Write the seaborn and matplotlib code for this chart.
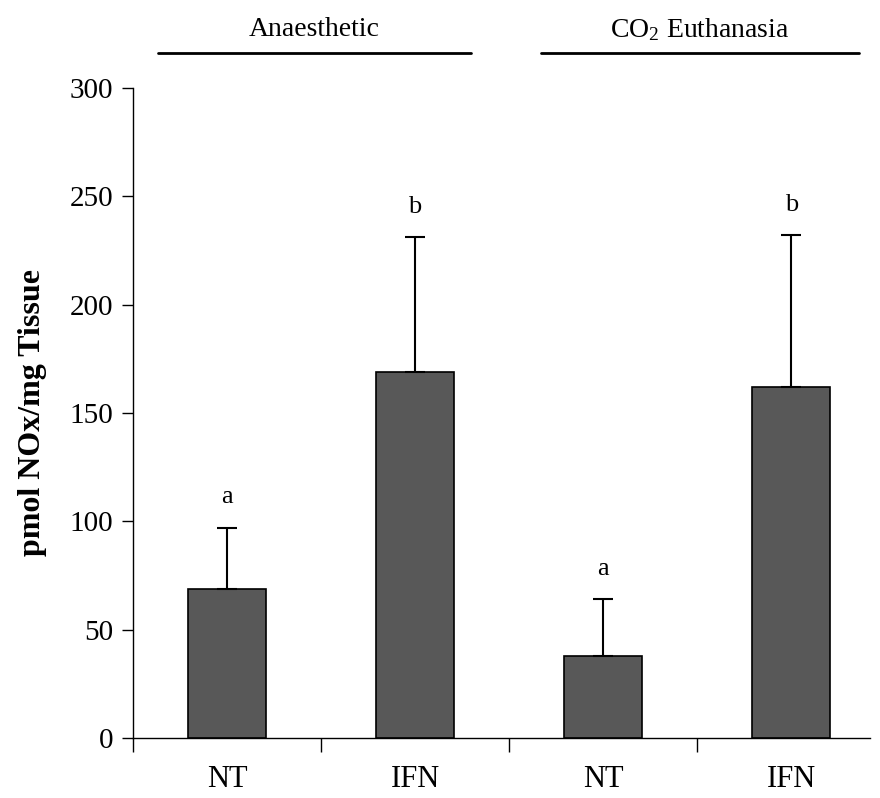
import matplotlib
matplotlib.use("Agg")
import matplotlib.pyplot as plt
import matplotlib.transforms as mtransforms
import seaborn as sns
import pandas as pd

# Data
positions = ["Anaesthetic NT", "Anaesthetic IFN", "CO2 NT", "CO2 IFN"]
tick_labels = ["NT", "IFN", "NT", "IFN"]
means = [69, 169, 38, 162]
upper_err = [28, 62, 26, 70]
letters = ["a", "b", "a", "b"]
groups = ["Anaesthetic", r"CO$_\mathregular{2}$ Euthanasia"]

sns.set_theme(style="white")
plt.rcParams["font.family"] = ["Liberation Serif", "DejaVu Serif"]
plt.rcParams["mathtext.default"] = "regular"
plt.rcParams["text.color"] = "black"
plt.rcParams["axes.labelcolor"] = "black"
plt.rcParams["xtick.color"] = "black"
plt.rcParams["ytick.color"] = "black"

df = pd.DataFrame({"cond": positions, "val": means})

fig = plt.figure(figsize=(8.8, 7.98), dpi=100)
ax = fig.add_axes([0.151, 0.075, 0.838, 0.815])

sns.barplot(data=df, x="cond", y="val", order=positions, color="#585858",
            saturation=1, width=0.415, edgecolor="black", linewidth=1.2,
            errorbar=None, ax=ax)

xs = list(range(len(positions)))
ax.errorbar(xs, means, yerr=[[0] * 4, upper_err], fmt="none", ecolor="black",
            elinewidth=1.5, capsize=7, capthick=1.5, zorder=1)

for x, m, e, l in zip(xs, means, upper_err, letters):
    ax.annotate(l, (x, m + e), xytext=(0, 14), textcoords="offset points",
                ha="center", va="bottom", fontsize=19, color="black")

ax.set_ylim(0, 300)
ax.set_xlim(-0.5, 3.42)
ax.set_yticks([0, 50, 100, 150, 200, 250, 300])
ax.set_xticks([-0.5, 0.5, 1.5, 2.5])
ax.set_xticklabels([])
ax.set_xticks(xs, minor=True)
ax.set_xticklabels(tick_labels, minor=True)
ax.tick_params(axis="x", which="minor", bottom=True, length=0, labelsize=22, pad=19, labelcolor="black")
ax.tick_params(axis="x", which="major", bottom=True, length=10, width=1, direction="out", color="black")
ax.tick_params(axis="y", left=True, length=8, width=1, direction="out", labelsize=21,
               color="black", labelcolor="black", pad=6)
ax.set_xlabel("")
ax.set_ylabel("pmol NOx/mg Tissue", fontsize=23, fontweight="bold", labelpad=16, color="black")

for s in ["top", "right"]:
    ax.spines[s].set_visible(False)
for s in ["left", "bottom"]:
    ax.spines[s].set_color("black")
    ax.spines[s].set_linewidth(1)

trans = mtransforms.blended_transform_factory(ax.transData, ax.transAxes)
for (x0, x1), g in zip([(-0.367, 1.298), (1.67, 3.36)], groups):
    ax.plot([x0, x1], [1.054, 1.054], transform=trans, color="black", lw=2, clip_on=False)
    ax.text((x0 + x1) / 2, 1.09, g, transform=trans, ha="center", va="center",
            fontsize=20, color="black")

fig.savefig("out.png", dpi=100)
